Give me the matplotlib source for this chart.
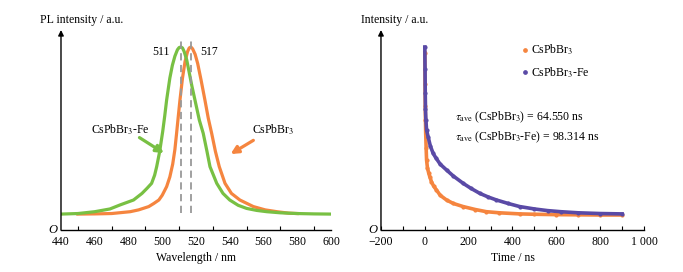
import matplotlib
matplotlib.use("Agg")
import matplotlib.pyplot as plt

plt.rcParams['font.family'] = ['Liberation Serif', 'DejaVu Serif']
plt.rcParams['mathtext.fontset'] = 'stix'
plt.rcParams['font.size'] = 8.5

# ---- PL spectra (wavelength in nm, normalised intensity) ----
wl_pure = [450, 460, 470, 481, 486, 492, 495, 498, 500, 502.6, 504.5, 506.2, 507.5,
           508.5, 509.5, 510.5, 512, 513.5, 515, 516, 517, 518, 519.5, 521, 523, 525.3,
           527.3, 529.3, 531.5, 533.8, 537.2, 541, 546, 554, 561, 568, 575, 580]
pl_pure = [0.087, 0.088, 0.09, 0.1, 0.11, 0.128, 0.145, 0.164, 0.19, 0.237, 0.29, 0.36,
           0.44, 0.528, 0.62, 0.71, 0.83, 0.92, 0.975, 0.995, 1.0, 0.99, 0.96, 0.91,
           0.82, 0.71, 0.61, 0.528, 0.43, 0.346, 0.255, 0.2, 0.164, 0.128, 0.11, 0.1,
           0.092, 0.09]

wl_fe = [440, 450, 460, 469, 475, 483, 488, 491, 493.7, 495.5, 496.7, 498.5, 500.3,
         501.5, 502.6, 504.5, 506, 507.5, 509, 510, 511, 512, 513, 514.5, 516, 517.5,
         519.4, 522, 524.3, 526.5, 528.3, 532.3, 536, 540, 545, 550, 556, 562, 570, 580,
         590, 600]
pl_fe = [0.087, 0.09, 0.1, 0.115, 0.137, 0.164, 0.2, 0.228, 0.255, 0.3, 0.346, 0.43,
         0.54, 0.625, 0.71, 0.83, 0.9, 0.95, 0.985, 0.997, 1.0, 0.995, 0.975, 0.93,
         0.86, 0.79, 0.71, 0.6, 0.528, 0.43, 0.346, 0.255, 0.2, 0.164, 0.135, 0.118,
         0.107, 0.1, 0.094, 0.09, 0.088, 0.087]

peak_pure = 517
peak_fe = 511

# ---- TRPL decay (time in ns, normalised intensity) ----
t_pure = [0, 1, 2, 3, 4, 6, 8, 12, 18, 23, 30, 40, 53, 70, 99, 130, 175, 230, 281,
          340, 433, 500, 600, 700, 800, 900]
i_pure = [0.97, 0.8, 0.68, 0.6, 0.53, 0.45, 0.383, 0.34, 0.31, 0.29, 0.265, 0.24,
          0.219, 0.19, 0.164, 0.145, 0.128, 0.112, 0.1, 0.094, 0.088, 0.086, 0.084,
          0.083, 0.082, 0.082]

t_fe = [0, 1, 2, 3, 5, 8, 15, 25, 38, 50, 70, 99, 130, 175, 210, 251, 290, 327, 380,
        433, 500, 560, 620, 700, 800, 900]
i_fe = [1.0, 0.88, 0.75, 0.66, 0.6, 0.546, 0.51, 0.46, 0.419, 0.395, 0.36, 0.328,
        0.295, 0.255, 0.228, 0.2, 0.18, 0.164, 0.145, 0.128, 0.115, 0.106, 0.1, 0.094,
        0.09, 0.088]

tau_pure = 64.550
tau_fe = 98.314

green = '#78c043'
orange = '#f5853f'
purple = '#5a4aa6'

fig = plt.figure(figsize=(6.83, 2.72), dpi=100)
ax1 = fig.add_axes([0.0893, 0.1544, 0.3953, 0.7353])
ax2 = fig.add_axes([0.5578, 0.1544, 0.3851, 0.7353])

for ax in (ax1, ax2):
    for s in ('top', 'right', 'left'):
        ax.spines[s].set_visible(False)
    ax.spines['bottom'].set_linewidth(1.0)
    ax.set_yticks([])
    ax.set_ylim(0, 1.093)
    ax.annotate('', xy=(0, 1.0), xycoords='axes fraction', xytext=(0, 0),
                arrowprops=dict(arrowstyle='-|>', color='black', lw=1.0,
                                mutation_scale=8, shrinkA=0, shrinkB=0))
    ax.text(-0.015, 0.0, 'O', transform=ax.transAxes, ha='right', va='center',
            style='italic', fontsize=9)

# left panel
ax1.plot(wl_pure, pl_pure, color=orange, lw=2.3, solid_joinstyle='round')
ax1.plot(wl_fe, pl_fe, color=green, lw=2.3, solid_joinstyle='round')
for p in (peak_fe, peak_pure):
    ax1.plot([p, p], [0.093, 1.04], color='#999999', lw=1.3, ls=(0, (4, 2.5)))
ax1.text(504.6, 0.973, str(peak_fe), ha='right', va='center')
ax1.text(522.4, 0.973, str(peak_pure), ha='left', va='center')

ax1.annotate('', xy=(501, 0.42), xytext=(486.5, 0.505),
             arrowprops=dict(arrowstyle='-|>', color=green, lw=2.3, mutation_scale=11,
                             shrinkA=0, shrinkB=0))
ax1.text(475, 0.546, 'CsPbBr$_3$-Fe', ha='center', va='center')
ax1.annotate('', xy=(540.5, 0.415), xytext=(554, 0.49),
             arrowprops=dict(arrowstyle='-|>', color=orange, lw=2.3, mutation_scale=11,
                             shrinkA=0, shrinkB=0))
ax1.text(565.6, 0.546, 'CsPbBr$_3$', ha='center', va='center')

ax1.set_xlim(440, 600)
ax1.set_xticks(range(440, 601, 20))
ax1.set_xticks(list(range(450, 600, 20)) + [600], minor=True)
ax1.tick_params(axis='x', which='major', length=0, pad=4)
ax1.tick_params(axis='x', which='minor', direction='in', length=3, width=0.8)
ax1.set_xlabel('Wavelength / nm', labelpad=3)
fig.text(40 / 683, 1 - 20 / 272, 'PL intensity / a.u.', ha='left', va='center')

# right panel
ax2.plot(t_pure, i_pure, color=orange, lw=2.6, zorder=2)
ax2.plot(t_pure, i_pure, 'o', color=orange, ms=2.0, label='CsPbBr$_3$', zorder=2)
ax2.plot(t_fe, i_fe, color=purple, lw=2.6, zorder=3)
ax2.plot(t_fe, i_fe, 'o', color=purple, ms=2.0, label='CsPbBr$_3$-Fe', zorder=3)

ax2.text(0.281, 0.565, r'$\tau_{\rm ave}$ (CsPbBr$_3$) = %.3f ns' % tau_pure,
         transform=ax2.transAxes, ha='left', va='center')
ax2.text(0.281, 0.465, r'$\tau_{\rm ave}$ (CsPbBr$_3$-Fe) = %.3f ns' % tau_fe,
         transform=ax2.transAxes, ha='left', va='center')

ax2.legend(loc='upper left', bbox_to_anchor=(0.52, 0.96), frameon=False,
           handlelength=0.5, handletextpad=0.25, labelspacing=0.7, markerscale=1.2,
           borderaxespad=0, fontsize=8.5)

ax2.set_xlim(-200, 1000)
ax2.set_xticks(range(-200, 1001, 200))
ax2.set_xticklabels(['\u2212200', '0', '200', '400', '600', '800', '1 000'])
ax2.set_xticks(range(-100, 1000, 200), minor=True)
ax2.tick_params(axis='x', which='both', direction='in', length=3, width=0.8, pad=4)
ax2.set_xlabel('Time / ns', labelpad=3)
fig.text(361 / 683, 1 - 20 / 272, 'Intensity / a.u.', ha='left', va='center')

fig.savefig('out.png', dpi=100)
